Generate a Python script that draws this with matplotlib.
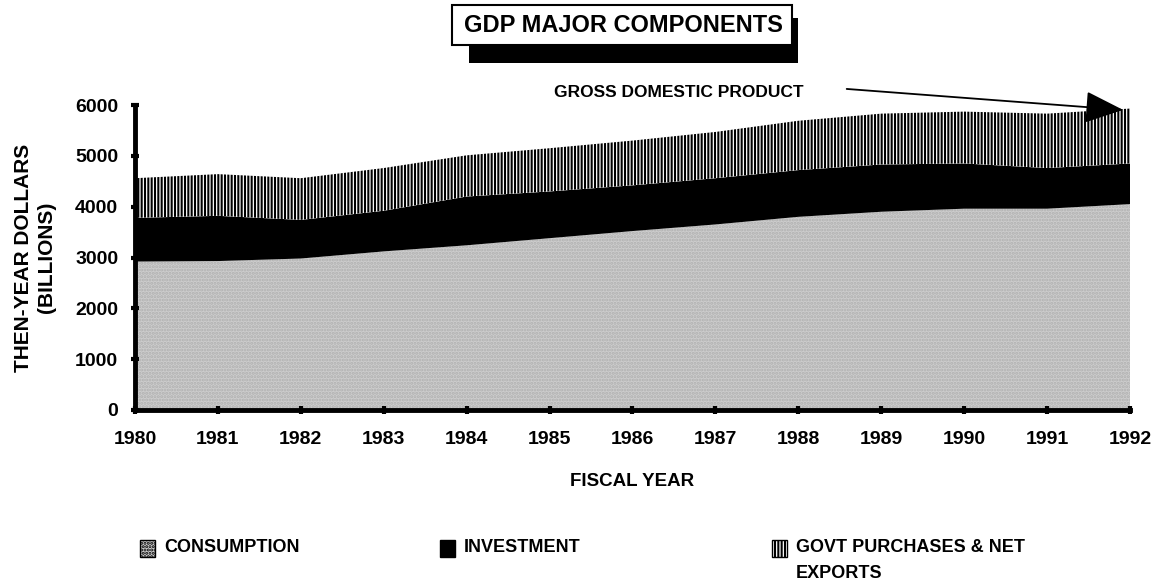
import matplotlib
matplotlib.use("Agg")
import matplotlib.pyplot as plt
from matplotlib.patches import Rectangle

plt.rcParams['font.family'] = ['Liberation Sans', 'DejaVu Sans']
plt.rcParams['font.weight'] = 'bold'
plt.rcParams['hatch.linewidth'] = 1.5

# Data (billions, then-year dollars)
years = [1980, 1981, 1982, 1983, 1984, 1985, 1986, 1987, 1988, 1989, 1990, 1991, 1992]
consumption = [2920, 2930, 2980, 3120, 3240, 3380, 3520, 3650, 3800, 3900, 3960, 3960, 4050]
investment = [860, 890, 760, 800, 960, 920, 900, 910, 920, 930, 890, 800, 800]
govt_net = [780, 820, 820, 840, 810, 850, 880, 910, 970, 1000, 1020, 1070, 1080]
labels = ["CONSUMPTION", "INVESTMENT", "GOVT PURCHASES & NET\nEXPORTS"]
yticks = [0, 1000, 2000, 3000, 4000, 5000, 6000]

W, H = 1158, 583
fig = plt.figure(figsize=(W / 100, H / 100), dpi=100)
ax = fig.add_axes([135 / W, 1 - 410 / H, (1130 - 135) / W, (410 - 105) / H])

polys = ax.stackplot(years, consumption, investment, govt_net,
                     colors=['#cdcdcd', 'black', 'white'], linewidth=0)
polys[0].set_hatch('.....')
polys[0].set_edgecolor('#b0b0b0')
polys[2].set_hatch('|||||')
polys[2].set_edgecolor('black')

ax.set_xlim(1980, 1992)
ax.set_ylim(0, 6000)
ax.set_xticks(years)
ax.set_yticks(yticks)
ax.tick_params(axis='both', labelsize=14, width=3, length=6, direction='inout')
ax.tick_params(axis='x', pad=12)
ax.tick_params(axis='y', pad=9)
for s in ['top', 'right']:
    ax.spines[s].set_visible(False)
for s in ['left', 'bottom']:
    ax.spines[s].set_linewidth(3.5)
for lab in ax.get_xticklabels() + ax.get_yticklabels():
    lab.set_fontweight('bold')

ax.set_xlabel("FISCAL YEAR", fontsize=13.5, fontweight='bold', labelpad=18)
ax.set_ylabel("THEN-YEAR DOLLARS\n(BILLIONS)", fontsize=15, fontweight='bold', labelpad=14,
              linespacing=1.25)

# GDP annotation
ax.text(1985.05, 6240, "GROSS DOMESTIC PRODUCT", fontsize=12.5, fontweight='bold',
        va='center', ha='left')
ax.annotate("", xy=(1991.95, 5900), xytext=(1988.55, 6320),
            arrowprops=dict(arrowstyle='-|>,head_length=1.2,head_width=0.5',
                            color='black', lw=1.3, mutation_scale=20),
            annotation_clip=False)

# Title box with shadow
fig.patches.append(Rectangle((469 / W, 1 - 63 / H), (798 - 469) / W, (63 - 18) / H,
                             transform=fig.transFigure, facecolor='black', edgecolor='none'))
fig.patches.append(Rectangle((452 / W, 1 - 45 / H), (792 - 452) / W, (45 - 5) / H,
                             transform=fig.transFigure, facecolor='white', edgecolor='black', lw=1.5))
fig.text(623 / W, 1 - 25 / H, "GDP MAJOR COMPONENTS", fontsize=17, fontweight='bold',
         ha='center', va='center')

# Legend drawn manually
leg_x = [140, 440, 772]
for i, x in enumerate(leg_x):
    p = polys[i]
    r = Rectangle((x / W, 1 - 557 / H), 15 / W, 17 / H, transform=fig.transFigure,
                  facecolor=p.get_facecolor()[0], edgecolor='black', lw=1,
                  hatch=p.get_hatch())
    fig.patches.append(r)
    fig.text((x + 24) / W, 1 - 548 / H, labels[i].split("\n")[0], fontsize=13,
             fontweight='bold', ha='left', va='center')
    if "\n" in labels[i]:
        fig.text((x + 24) / W, 1 - 573 / H, labels[i].split("\n")[1], fontsize=13,
                 fontweight='bold', ha='left', va='center')

fig.savefig("out.png", dpi=100)
